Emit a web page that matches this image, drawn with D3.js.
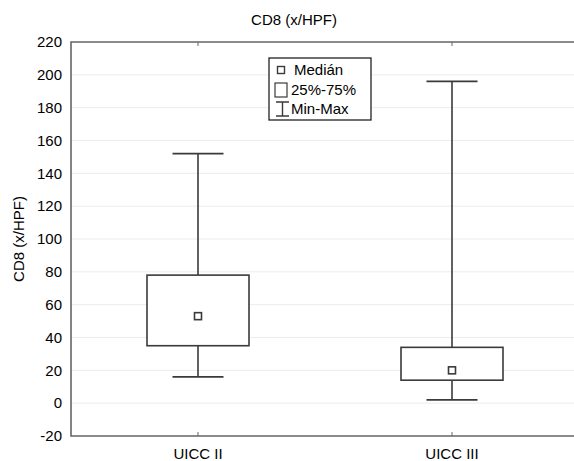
<!DOCTYPE html>
<html>
<head>
<meta charset="utf-8">
<script src="https://cdn.jsdelivr.net/npm/d3@7/dist/d3.min.js"></script>
<style>
  html, body { margin: 0; padding: 0; background: #fff; }
  svg { display: block; }
  text { font-family: Arial, "Liberation Sans", sans-serif; fill: #000; }
</style>
</head>
<body>
<svg id="chart" width="574" height="461"></svg>
<script>
// Box plot of CD8 (x/HPF) by UICC stage
const categories = ["UICC II", "UICC III"];
const minValues = [16, 2];
const q1Values = [35, 14];
const medianValues = [53, 20];
const q3Values = [78, 34];
const maxValues = [152, 196];
const yTicks = [-20, 0, 20, 40, 60, 80, 100, 120, 140, 160, 180, 200, 220];
const legendLabels = ["Medián", "25%-75%", "Min-Max"];

const svg = d3.select("#chart");
const plot = { left: 71, top: 42, right: 579, bottom: 436 };
const stroke = "#3a3a3a";

const x = d3.scaleBand().domain(categories).range([plot.left, plot.right]).padding(0);
const cx = c => x(c) + x.bandwidth() / 2;
const y = d3.scaleLinear().domain([-20, 220]).range([plot.bottom, plot.top]);

// Horizontal gridlines
svg.append("g").selectAll("line").data(yTicks.slice(1, -1)).join("line")
  .attr("x1", plot.left).attr("x2", plot.right)
  .attr("y1", d => y(d)).attr("y2", d => y(d))
  .attr("stroke", "#ececec").attr("stroke-width", 1);

// Left axis with tick labels (plain hyphen for negatives)
const yAxis = svg.append("g")
  .attr("transform", `translate(${plot.left},0)`)
  .call(d3.axisLeft(y).tickValues(yTicks).tickFormat(d => String(d)).tickSize(0).tickPadding(9));
yAxis.select(".domain").remove();
yAxis.selectAll("text").style("font-size", "15px").style("font-family", "Arial, 'Liberation Sans', sans-serif").attr("fill", "#000");

// Bottom axis with category labels
const xAxis = svg.append("g")
  .attr("transform", `translate(0,${plot.bottom})`)
  .call(d3.axisBottom(x).tickSize(0).tickPadding(12));
xAxis.select(".domain").remove();
xAxis.selectAll("text").style("font-size", "15px").style("font-family", "Arial, 'Liberation Sans', sans-serif").attr("fill", "#000");

// Frame (left, top, bottom)
svg.append("path")
  .attr("d", `M${plot.right},${plot.top}H${plot.left}V${plot.bottom}H${plot.right}`)
  .attr("fill", "none").attr("stroke", "#666").attr("stroke-width", 1.6);

// Small inward category ticks on top and bottom edges
categories.forEach(c => {
  svg.append("line").attr("x1", cx(c)).attr("x2", cx(c))
    .attr("y1", plot.bottom).attr("y2", plot.bottom - 4)
    .attr("stroke", "#666").attr("stroke-width", 1);
  svg.append("line").attr("x1", cx(c)).attr("x2", cx(c))
    .attr("y1", plot.top).attr("y2", plot.top + 4)
    .attr("stroke", "#666").attr("stroke-width", 1);
});

// Boxes, whiskers and medians
const boxW = 102, capW = 51, medS = 7;
const rows = categories.map((c, i) => ({
  c, min: minValues[i], q1: q1Values[i], med: medianValues[i], q3: q3Values[i], max: maxValues[i]
}));
const g = svg.append("g").attr("stroke", stroke).attr("stroke-width", 1.6).attr("fill", "none");
rows.forEach(d => {
  const xc = cx(d.c);
  g.append("line").attr("x1", xc).attr("x2", xc).attr("y1", y(d.max)).attr("y2", y(d.q3));
  g.append("line").attr("x1", xc).attr("x2", xc).attr("y1", y(d.q1)).attr("y2", y(d.min));
  g.append("line").attr("x1", xc - capW / 2).attr("x2", xc + capW / 2).attr("y1", y(d.max)).attr("y2", y(d.max));
  g.append("line").attr("x1", xc - capW / 2).attr("x2", xc + capW / 2).attr("y1", y(d.min)).attr("y2", y(d.min));
  g.append("rect").attr("x", xc - boxW / 2).attr("y", y(d.q3))
    .attr("width", boxW).attr("height", y(d.q1) - y(d.q3)).attr("fill", "#fff");
  g.append("rect").attr("x", xc - medS / 2).attr("y", y(d.med) - medS / 2)
    .attr("width", medS).attr("height", medS).attr("fill", "#fff");
});

// Legend
const lg = svg.append("g");
lg.append("rect").attr("x", 269).attr("y", 58).attr("width", 102).attr("height", 62)
  .attr("fill", "#fff").attr("stroke", "#222").attr("stroke-width", 1.3);
const rowY = [70, 90, 109];
lg.append("rect").attr("x", 277.5).attr("y", rowY[0] - 3.5).attr("width", 7).attr("height", 7)
  .attr("fill", "#fff").attr("stroke", stroke).attr("stroke-width", 1.4);
lg.append("rect").attr("x", 275).attr("y", rowY[1] - 7).attr("width", 12).attr("height", 14)
  .attr("fill", "#fff").attr("stroke", stroke).attr("stroke-width", 1.2);
lg.append("path")
  .attr("d", `M276,${rowY[2] - 7}H289M282.5,${rowY[2] - 7}V${rowY[2] + 7}M276,${rowY[2] + 7}H289`)
  .attr("fill", "none").attr("stroke", stroke).attr("stroke-width", 1.4);
lg.selectAll("text.leg").data(legendLabels).join("text")
  .attr("class", "leg")
  .attr("x", (d, i) => i === 0 ? 294 : 291)
  .attr("y", (d, i) => rowY[i])
  .attr("dy", "0.36em")
  .style("font-size", "15px")
  .text(d => d);

// Titles
svg.append("text").attr("x", 294).attr("y", 25).attr("text-anchor", "middle")
  .style("font-size", "15px").text("CD8 (x/HPF)");
svg.append("text").attr("transform", `translate(24,${(plot.top + plot.bottom) / 2}) rotate(-90)`)
  .attr("text-anchor", "middle").style("font-size", "15px").text("CD8 (x/HPF)");
</script>
</body>
</html>
